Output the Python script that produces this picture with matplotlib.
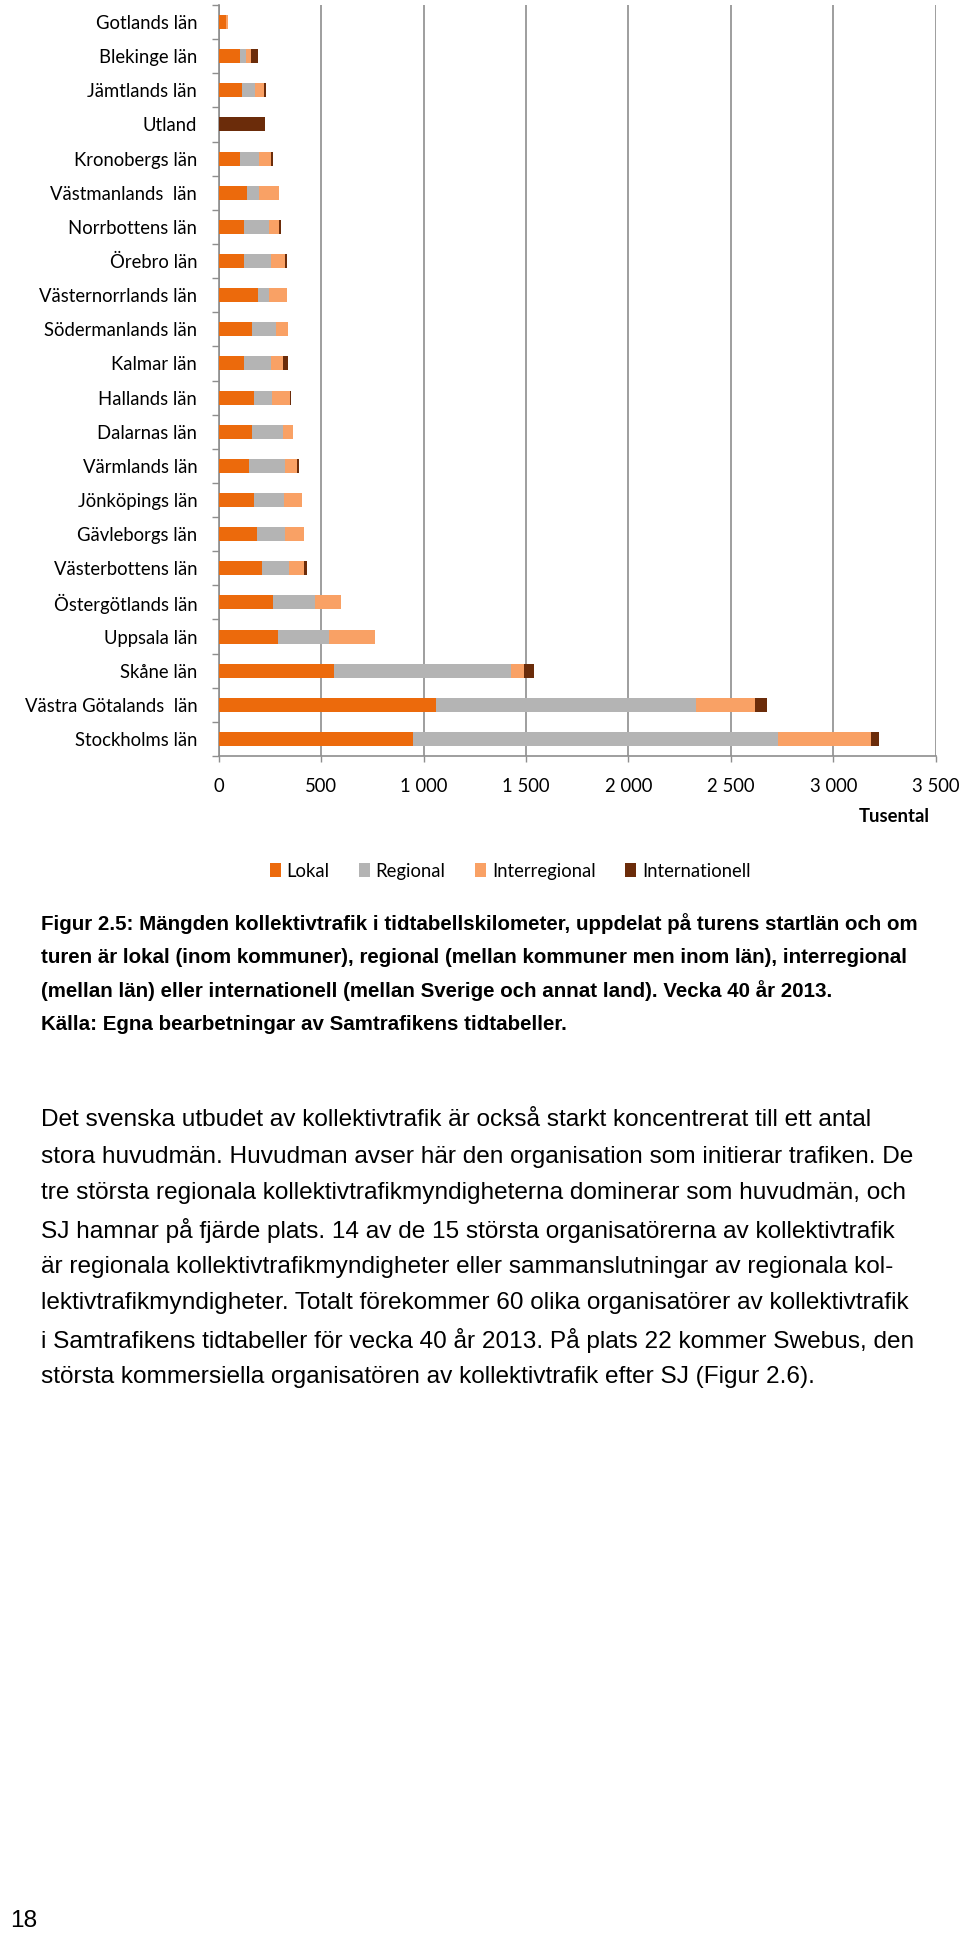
import matplotlib
matplotlib.use("Agg")
import matplotlib.pyplot as plt
from matplotlib.patches import Patch
import numpy as np

# ---------------- data ----------------
categories = ["Gotlands län", "Blekinge län", "Jämtlands län", "Utland", "Kronobergs län",
              "Västmanlands  län", "Norrbottens län", "Örebro län", "Västernorrlands län",
              "Södermanlands län", "Kalmar län", "Hallands län", "Dalarnas län", "Värmlands län",
              "Jönköpings län", "Gävleborgs län", "Västerbottens län", "Östergötlands län",
              "Uppsala län", "Skåne län", "Västra Götalands  län", "Stockholms län"]
lokal = [36, 102, 116, 0, 102, 140, 124, 125, 192, 163, 124, 171, 163, 146, 171, 186, 210, 265, 288, 565, 1059, 950]
regional = [0, 29, 63, 0, 96, 59, 122, 132, 54, 116, 133, 90, 153, 176, 146, 138, 135, 205, 250, 862, 1273, 1779]
interregional = [10, 29, 44, 0, 55, 94, 47, 65, 86, 60, 59, 86, 47, 62, 91, 91, 70, 125, 224, 65, 286, 457]
internationell = [0, 33, 10, 225, 10, 0, 10, 10, 0, 0, 24, 8, 0, 10, 0, 0, 16, 0, 0, 49, 60, 39]
series_names = ["Lokal", "Regional", "Interregional", "Internationell"]
x_ticks = [0, 500, 1000, 1500, 2000, 2500, 3000, 3500]
axis_title = "Tusental"

caption_lines = [
    "Figur 2.5: Mängden kollektivtrafik i tidtabellskilometer, uppdelat på turens startlän och om",
    "turen är lokal (inom kommuner), regional (mellan kommuner men inom län), interregional",
    "(mellan län) eller internationell (mellan Sverige och annat land). Vecka 40 år 2013.",
    "Källa: Egna bearbetningar av Samtrafikens tidtabeller.",
]
body_lines = [
    "Det svenska utbudet av kollektivtrafik är också starkt koncentrerat till ett antal",
    "stora huvudmän. Huvudman avser här den organisation som initierar trafiken. De",
    "tre största regionala kollektivtrafikmyndigheterna dominerar som huvudmän, och",
    "SJ hamnar på fjärde plats. 14 av de 15 största organisatörerna av kollektivtrafik",
    "är regionala kollektivtrafikmyndigheter eller sammanslutningar av regionala kol-",
    "lektivtrafikmyndigheter. Totalt förekommer 60 olika organisatörer av kollektivtrafik",
    "i Samtrafikens tidtabeller för vecka 40 år 2013. På plats 22 kommer Swebus, den",
    "största kommersiella organisatören av kollektivtrafik efter SJ (Figur 2.6).",
]
page_number = "18"

# ---------------- style ----------------
colors = ["#EC6A0C", "#B4B4B4", "#F9A165", "#6B2C0A"]
grid_col = "#8E8E8E"
W, H = 960, 1936
chart_font = "Lato"
text_font = "Liberation Sans"

fig = plt.figure(figsize=(W / 100, H / 100), dpi=100)
fig.patch.set_facecolor("white")
renderer = fig.canvas.get_renderer()


def fx(px):
    return px / W


def fy(py):
    return 1 - py / H


def fit_size(txt, target_w):
    w = txt.get_window_extent(renderer).width
    return txt.get_fontsize() * target_w / w

# measure chart font size from the longest label
probe = fig.text(0, 0, "Västra Götalands  län", family=chart_font, fontsize=12)
lab_fs = fit_size(probe, 172)
probe.remove()

x0, x1, y0, y1 = 218.7, 935.7, 5, 756
ax = fig.add_axes([fx(x0), fy(y1), fx(x1) - fx(x0), (y1 - y0) / H])

y = np.arange(len(categories))
left = np.zeros(len(categories))
for vals, col in zip([lokal, regional, interregional, internationell], colors):
    ax.barh(y, vals, left=left, height=0.41, color=col, linewidth=0, zorder=3)
    left = left + np.array(vals)

ax.set_ylim(len(categories) - 0.5, -0.5)
ax.set_xlim(0, 3500)
ax.set_xticks(x_ticks)
ax.set_xticklabels([f"{v:,}".replace(",", " ") for v in x_ticks], family=chart_font, fontsize=lab_fs)
ax.set_yticks(y)
ax.set_yticklabels(categories, family=chart_font, fontsize=lab_fs)
ax.set_yticks(np.arange(-0.5, len(categories)), minor=True)
ax.tick_params(axis="y", which="major", length=0, pad=15.5)
ax.tick_params(axis="y", which="minor", length=5, width=1, color=grid_col, direction="out")
ax.tick_params(axis="x", which="major", length=4, width=1, color=grid_col, direction="out", pad=12)
ax.xaxis.grid(True, color=grid_col, linewidth=1.2, zorder=0)
ax.set_axisbelow(True)
for s in ["top", "right"]:
    ax.spines[s].set_visible(False)
for s in ["left", "bottom"]:
    ax.spines[s].set_color(grid_col)
    ax.spines[s].set_linewidth(1.2)

fig.text(fx(930), fy(817), axis_title, family=chart_font, fontsize=lab_fs, fontweight="bold",
         ha="right", va="center")

handles = [Patch(facecolor=c, edgecolor="none") for c in colors]
fig.legend(handles, series_names, loc="center", bbox_to_anchor=(fx(510), fy(871)), ncol=4,
           frameon=False, prop={"family": chart_font, "size": lab_fs}, handlelength=0.6,
           handleheight=0.75, handletextpad=0.3, columnspacing=1.6)

# caption
t = fig.text(fx(41), fy(924), caption_lines[0], family=text_font, fontweight="bold", fontsize=12)
cap_fs = fit_size(t, 874)
t.remove()
for i, line in enumerate(caption_lines):
    fig.text(fx(41), fy(924 + 33.5 * i), line, family=text_font, fontweight="bold",
             fontsize=cap_fs, ha="left", va="center")

# body text
t = fig.text(fx(41), fy(1120), body_lines[0], family=text_font, fontsize=12)
body_fs = fit_size(t, 836)
t.remove()
for i, line in enumerate(body_lines):
    fig.text(fx(41), fy(1120 + 36.7 * i), line, family=text_font, fontsize=body_fs,
             ha="left", va="center")

fig.text(fx(10), fy(1921), page_number, family=text_font, fontsize=body_fs, ha="left", va="center")

fig.savefig("out.png", dpi=100, facecolor="white")
